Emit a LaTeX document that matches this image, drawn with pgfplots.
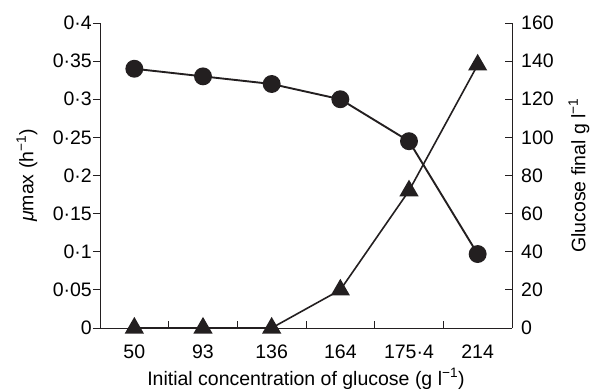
\documentclass[border=0pt]{standalone}
\usepackage{fontspec}
\setmainfont{Liberation Sans}
\usepackage{pgfplots}
\pgfplotsset{compat=1.18}

\definecolor{ink}{RGB}{35,31,32}
\newcommand\chartfont{\fontsize{19.5}{22}\selectfont}

\pgfplotsset{
  common/.style={
    width=412pt, height=305pt, scale only axis,
    xmin=-0.5, xmax=5.5,
    font=\chartfont,
    ticklabel style={font=\chartfont},
    /pgf/number format/assume math mode=true,
    axis line style={line width=0.9pt, ink},
    every tick/.style={ink, line width=0.9pt},
    major tick length=7pt, minor tick length=7pt,
    clip=false,
  },
}

\begin{document}
\begin{tikzpicture}
% left axis: maximum specific growth rate
\begin{axis}[common,
  axis x line*=bottom, axis y line*=left,
  ymin=0, ymax=0.4,
  xtick={0,1,2,3,4,5},
  xticklabels={50,93,136,164,175·4,214},
  major x tick style={draw=none},
  minor xtick={0.5,1.5,2.5,3.5,4.5},
  xtick align=inside, ytick align=outside,
  xticklabel style={anchor=north, yshift=-17pt, inner sep=0pt},
  yticklabel style={anchor=east, inner sep=0pt, xshift=-1pt},
  ytick={0,0.05,0.1,0.15,0.2,0.25,0.3,0.35,0.4},
  yticklabels={0,0·05,0·1,0·15,0·2,0·25,0·3,0·35,0·4},
  xlabel={Initial concentration of glucose (g l\textsuperscript{−1})},
  ylabel={\textit{μ}max (h\textsuperscript{−1})},
  xlabel style={at={(rel axis cs:0.5,0)}, anchor=center, yshift=-51pt, inner sep=0pt},
  ylabel style={at={(rel axis cs:0,0.5)}, anchor=center, yshift=73pt, inner sep=0pt},
]
\coordinate (sw) at (rel axis cs:0,0);
\coordinate (ne) at (rel axis cs:1,1);
\addplot[ink, line width=1.9pt, mark=*, mark size=8pt,
  mark options={solid, fill=ink}]
  coordinates {(0,0.34) (1,0.33) (2,0.32) (3,0.30) (4,0.245) (5,0.097)};
\end{axis}
% right axis: final glucose
\begin{axis}[common,
  hide x axis, axis y line*=right,
  ymin=0, ymax=160,
  ytick={0,20,...,160},
  ytick align=inside,
  yticklabel style={anchor=west, inner sep=0pt, xshift=9pt},
  ylabel={Glucose final g l\textsuperscript{−1}},
  ylabel style={at={(rel axis cs:1,0.5)}, anchor=center, yshift=-67pt, inner sep=0pt},
]
\addplot[ink, line width=1.6pt, mark=triangle*, mark size=9.5pt,
  mark options={solid, fill=ink}]
  coordinates {(0,0) (1,0) (2,0) (3,20) (4,72) (5,138)};
\end{axis}
\pgfresetboundingbox
\path ([shift={(-100pt,-63pt)}]sw) rectangle ([shift={(79pt,23pt)}]ne);
\end{tikzpicture}
\end{document}
